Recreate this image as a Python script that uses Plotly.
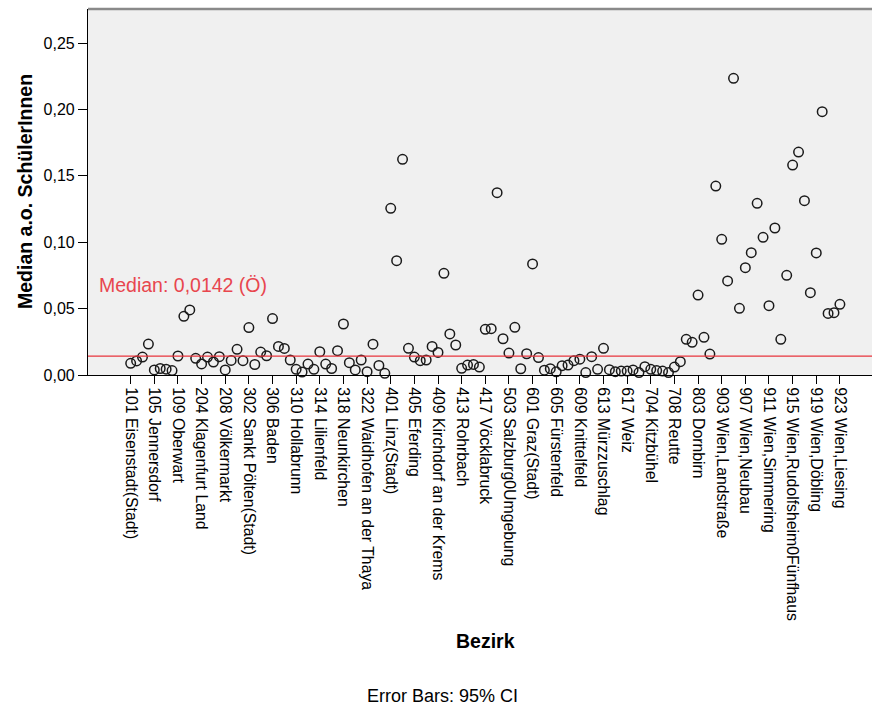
import plotly.graph_objects as go

districts = [
    "101 Eisenstadt(Stadt)", "102 Rust(Stadt)", "103 Eisenstadt0Umgebung", "104 Güssing", "105 Jennersdorf",
    "106 Mattersburg", "107 Neusiedl am See", "108 Oberpullendorf", "109 Oberwart",
    "201 Klagenfurt(Stadt)", "202 Villach(Stadt)", "203 Hermagor", "204 Klagenfurt Land", "205 Sankt Veit an der Glan",
    "206 Spittal an der Drau", "207 Villach Land", "208 Völkermarkt", "209 Wolfsberg", "210 Feldkirchen",
    "301 Krems an der Donau(Stadt)", "302 Sankt Pölten(Stadt)", "303 Waidhofen an der Ybbs(Stadt)",
    "304 Wiener Neustadt(Stadt)", "305 Amstetten", "306 Baden", "307 Bruck an der Leitha", "308 Gänserndorf",
    "309 Gmünd", "310 Hollabrunn", "311 Horn", "312 Korneuburg", "313 Krems(Land)", "314 Lilienfeld", "315 Melk",
    "316 Mistelbach", "317 Mödling", "318 Neunkirchen", "319 Sankt Pölten(Land)", "320 Scheibbs", "321 Tulln",
    "322 Waidhofen an der Thaya", "323 Wiener Neustadt(Land)", "324 Wien0Umgebung", "325 Zwettl",
    "401 Linz(Stadt)", "402 Steyr(Stadt)", "403 Wels(Stadt)", "404 Braunau am Inn", "405 Eferding", "406 Freistadt",
    "407 Gmunden", "408 Grieskirchen", "409 Kirchdorf an der Krems", "410 Linz0Land", "411 Perg",
    "412 Ried im Innkreis", "413 Rohrbach", "414 Schärding", "415 Steyr0Land", "416 Urfahr0Umgebung",
    "417 Vöcklabruck", "418 Wels0Land",
    "501 Salzburg(Stadt)", "502 Hallein", "503 Salzburg0Umgebung", "504 Sankt Johann im Pongau", "505 Tamsweg",
    "506 Zell am See",
    "601 Graz(Stadt)", "602 Bruck an der Mur", "603 Deutschlandsberg", "604 Feldbach", "605 Fürstenfeld",
    "606 Graz0Umgebung", "607 Hartberg", "608 Judenburg", "609 Knittelfeld", "610 Leibnitz", "611 Leoben",
    "612 Liezen", "613 Mürzzuschlag", "614 Murau", "615 Radkersburg", "616 Voitsberg", "617 Weiz",
    "701 Innsbruck0Stadt", "702 Imst", "703 Innsbruck0Land", "704 Kitzbühel", "705 Kufstein", "706 Landeck",
    "707 Lienz", "708 Reutte", "709 Schwaz",
    "801 Bludenz", "802 Bregenz", "803 Dornbirn", "804 Feldkirch",
    "901 Wien,Innere Stadt", "902 Wien,Leopoldstadt", "903 Wien,Landstraße", "904 Wien,Wieden",
    "905 Wien,Margareten", "906 Wien,Mariahilf", "907 Wien,Neubau", "908 Wien,Josefstadt", "909 Wien,Alsergrund",
    "910 Wien,Favoriten", "911 Wien,Simmering", "912 Wien,Meidling", "913 Wien,Hietzing", "914 Wien,Penzing",
    "915 Wien,Rudolfsheim0Fünfhaus", "916 Wien,Ottakring", "917 Wien,Hernals", "918 Wien,Währing",
    "919 Wien,Döbling", "920 Wien,Brigittenau", "921 Wien,Floridsdorf", "922 Wien,Donaustadt", "923 Wien,Liesing",
]

median_values = [
    0.0088, 0.0106, 0.0135, 0.0233, 0.0038, 0.0049, 0.0044, 0.0033, 0.0143,
    0.0442, 0.0490, 0.0126, 0.0083, 0.0135, 0.0098, 0.0138, 0.0038, 0.0110, 0.0193,
    0.0108, 0.0357, 0.0079, 0.0173, 0.0145, 0.0425, 0.0215, 0.0200, 0.0113, 0.0043,
    0.0022, 0.0082, 0.0043, 0.0175, 0.0082, 0.0049, 0.0183, 0.0384, 0.0093, 0.0038,
    0.0113, 0.0025, 0.0232, 0.0072, 0.0013,
    0.1255, 0.0861, 0.1624, 0.0201, 0.0135, 0.0108, 0.0113, 0.0215, 0.0170, 0.0766,
    0.0309, 0.0226, 0.0050, 0.0075, 0.0080, 0.0060, 0.0344, 0.0349,
    0.1373, 0.0273, 0.0165, 0.0359, 0.0047, 0.0160,
    0.0836, 0.0131, 0.0036, 0.0048, 0.0024, 0.0070, 0.0075, 0.0108, 0.0119, 0.0018,
    0.0138, 0.0043, 0.0201, 0.0040, 0.0025, 0.0030, 0.0030,
    0.0038, 0.0018, 0.0063, 0.0043, 0.0033, 0.0030, 0.0018, 0.0060, 0.0100,
    0.0269, 0.0246, 0.0602, 0.0284,
    0.0158, 0.1423, 0.1022, 0.0708, 0.2234, 0.0502, 0.0808, 0.0921, 0.1293, 0.1037,
    0.0522, 0.1107, 0.0269, 0.0751, 0.1581, 0.1679, 0.1313, 0.0620, 0.0919, 0.1983,
    0.0464, 0.0469, 0.0532,
]

x_tick_labels = districts[::4]
y_tick_vals = [0.0, 0.05, 0.10, 0.15, 0.20, 0.25]
y_tick_text = ["0,00", "0,05", "0,10", "0,15", "0,20", "0,25"]
overall_median = 0.0142
median_label = "Median: 0,0142 (Ö)"

FONT = "Liberation Sans, Arial, sans-serif"

fig = go.Figure()
fig.add_trace(go.Scatter(
    x=districts, y=median_values, mode="markers",
    marker=dict(symbol="circle-open", size=9.5, color="#1a1a1a", line=dict(width=1.5)),
    cliponaxis=False, showlegend=False, hoverinfo="x+y",
))

fig.add_shape(type="line", xref="paper", yref="y", x0=0, x1=1, y0=overall_median, y1=overall_median,
              line=dict(color="#e8343c", width=1.2), layer="above")
fig.add_shape(type="line", xref="paper", yref="paper", x0=0, x1=1, y0=1, y1=1,
              line=dict(color="#8a8a8a", width=2.5), layer="above")

W, H = 872, 711
L, R, T, B = 88, 0, 9, 336
pw, ph = W - L - R, H - T - B

def px(xp):
    return (xp - L) / pw

def py(yp):
    return (H - B - yp) / ph

fig.add_annotation(text=median_label, xref="paper", yref="paper", x=px(97), y=py(285),
                   xanchor="left", yanchor="middle", showarrow=False,
                   font=dict(family=FONT, size=19.5, color="#e8464e"))
fig.add_annotation(text="<b>Median a.o. SchülerInnen</b>", xref="paper", yref="paper", x=px(25), y=0.5,
                   xanchor="center", yanchor="middle", textangle=-90, showarrow=False,
                   font=dict(family=FONT, size=19.5, color="#000000"))
fig.add_annotation(text="<b>Bezirk</b>", xref="paper", yref="paper", x=px(485), y=py(641),
                   xanchor="center", yanchor="middle", showarrow=False,
                   font=dict(family=FONT, size=19.5, color="#000000"))
fig.add_annotation(text="Error Bars: 95% CI", xref="paper", yref="paper", x=px(442.5), y=py(696),
                   xanchor="center", yanchor="middle", showarrow=False,
                   font=dict(family=FONT, size=18, color="#000000"))

fig.update_layout(
    width=W, height=H,
    margin=dict(l=L, r=R, t=T, b=B, pad=0),
    paper_bgcolor="#ffffff", plot_bgcolor="#f0f0f0",
    font=dict(family=FONT, color="#000000"),
    showlegend=False,
)
fig.update_xaxes(
    type="category", categoryorder="array", categoryarray=districts,
    range=[-7.22, 125.43],
    tickmode="array", tickvals=x_tick_labels, ticktext=x_tick_labels,
    tickangle=90, tickfont=dict(family=FONT, size=15.8, color="#000000"),
    ticks="outside", ticklen=8, tickwidth=1, tickcolor="#000000",
    showline=True, linecolor="#000000", linewidth=1.2,
    showgrid=False, zeroline=False, automargin=False,
)
fig.update_yaxes(
    range=[0, 0.2756],
    tickmode="array", tickvals=y_tick_vals, ticktext=y_tick_text,
    tickfont=dict(family=FONT, size=16, color="#000000"),
    ticks="outside", ticklen=9, tickwidth=1, tickcolor="#000000",
    showline=True, linecolor="#000000", linewidth=1.2,
    showgrid=False, zeroline=False, automargin=False,
)

fig.write_html(
    "out.html",
    config={"displayModeBar": False},
    post_script="document.body.style.margin='0';document.body.style.overflow='hidden';",
)
